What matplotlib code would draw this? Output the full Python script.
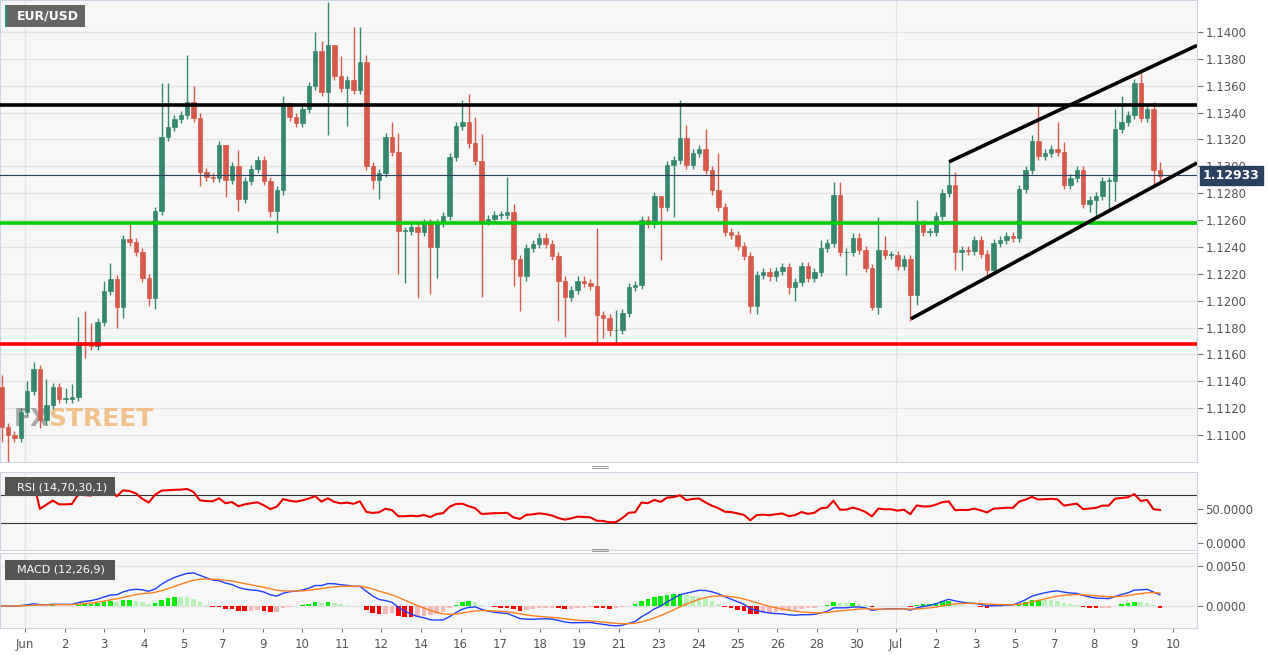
import numpy as np
import pandas as pd
import matplotlib
matplotlib.use("Agg")
import matplotlib.pyplot as plt
from matplotlib.patches import Rectangle

# ---------------- data ----------------
closes = [
1.1106,1.1100,1.1098,1.1117,1.1133,1.1149,1.1111,1.1122,1.1136,1.1127,
1.1127,1.1128,1.1169,1.1167,1.1166,1.1184,1.1207,1.1216,1.1195,1.1246,
1.1244,1.1236,1.1217,1.1202,1.1267,1.1322,1.1329,1.1335,1.1338,1.1348,
1.1336,1.1296,1.1292,1.1291,1.1316,1.1290,1.1300,1.1276,1.1289,1.1298,
1.1305,1.1289,1.1267,1.1282,1.1347,1.1337,1.1332,1.1343,1.1360,1.1386,
1.1355,1.1390,1.1367,1.1358,1.1364,1.1357,1.1378,1.1300,1.1290,1.1295,
1.1322,1.1311,1.1252,1.1252,1.1255,1.1251,1.1258,1.1240,1.1258,1.1263,
1.1307,1.1330,1.1333,1.1317,1.1304,1.1259,1.1261,1.1264,1.1264,1.1266,
1.1231,1.1218,1.1239,1.1242,1.1247,1.1242,1.1233,1.1215,1.1203,1.1208,
1.1215,1.1213,1.1211,1.1189,1.1187,1.1178,1.1178,1.1191,1.1210,1.1212,
1.1260,1.1257,1.1278,1.1270,1.1301,1.1305,1.1321,1.1301,1.1310,1.1313,
1.1297,1.1282,1.1270,1.1251,1.1249,1.1241,1.1233,1.1196,1.1219,1.1221,
1.1218,1.1222,1.1225,1.1210,1.1214,1.1226,1.1217,1.1221,1.1239,1.1243,
1.1279,1.1236,1.1236,1.1247,1.1238,1.1224,1.1195,1.1238,1.1234,1.1234,
1.1226,1.1231,1.1204,1.1257,1.1251,1.1251,1.1263,1.1280,1.1286,1.1236,
1.1238,1.1237,1.1245,1.1235,1.1223,1.1243,1.1245,1.1248,1.1247,1.1283,
1.1297,1.1319,1.1308,1.1310,1.1313,1.1311,1.1286,1.1291,1.1297,1.1272,
1.1275,1.1278,1.1289,1.1289,1.1328,1.1333,1.1338,1.1362,1.1336,1.1343,
1.1297,1.1293]
first_open = 1.1136
high_marks = {1:1.1145,5:1.1140,6:1.1154,8:1.1142,11:1.1135,12:1.1138,13:1.1188,14:1.1192,
 15:1.1183,17:1.1215,18:1.1228,21:1.1257,26:1.1362,27:1.1362,30:1.1383,31:1.1360,32:1.1340,
 36:1.1315,38:1.1312,45:1.1352,46:1.1343,50:1.1400,51:1.1393,52:1.1422,53:1.1390,54:1.1382,
 56:1.1404,57:1.1404,58:1.1383,62:1.1333,63:1.1325,73:1.1349,74:1.1354,75:1.1337,76:1.1324,
 80:1.1292,81:1.1272,94:1.1254,97:1.1193,104:1.1278,107:1.1349,108:1.1331,111:1.1328,
 113:1.1310,129:1.1245,131:1.1288,132:1.1288,138:1.1262,139:1.1248,144:1.1275,149:1.1303,
 150:1.1296,162:1.1323,163:1.1345,166:1.1333,167:1.1318,170:1.1300,175:1.1343,176:1.1352,
 178:1.1365,179:1.1370,180:1.1345,181:1.1348,182:1.1303}
low_marks = {1:1.1095,2:1.1080,7:1.1105,14:1.1157,19:1.1180,20:1.1187,24:1.1196,25:1.1194,
 32:1.1285,36:1.1277,38:1.1267,43:1.1262,44:1.1250,52:1.1323,55:1.1330,59:1.1283,60:1.1276,
 63:1.1220,64:1.1213,66:1.1202,68:1.1205,69:1.1217,76:1.1203,81:1.1211,82:1.1192,88:1.1185,
 89:1.1173,94:1.1168,95:1.1172,96:1.1174,97:1.1169,104:1.1230,106:1.1262,118:1.1191,
 119:1.1190,124:1.1205,125:1.1200,133:1.1219,137:1.1193,138:1.1190,143:1.1185,144:1.1197,
 150:1.1223,151:1.1223,155:1.1218,171:1.1266,172:1.1263,174:1.1268,175:1.1274,181:1.1285,
 182:1.1288}
day_labels = ["Jun","2","3","4","5","7","9","10","11","12","14","16","17","18","19","21",
              "23","24","25","26","28","30","Jul","2","3","5","7","8","9","10"]
resistance = 1.1346
support_mid = 1.1258
support_low = 1.1168
last_price = 1.12933
chan_upper = [(949, 1.13033), (1197, 1.1390)]
chan_lower = [(911, 1.11865), (1197, 1.13025)]

# ---------------- derived ----------------
n = len(closes)
opens = [first_open] + closes[:-1]
pip = 0.0003
highs, lows = [], []
for i in range(n):
    o, c = opens[i], closes[i]
    highs.append(max(high_marks.get(i + 1, max(o, c) + pip), max(o, c)))
    lows.append(min(low_marks.get(i + 1, min(o, c) - pip), min(o, c)))
xs = 1.5 + 6.4 * np.arange(n)
day_x = 25 + 39.6 * np.arange(len(day_labels))

s = pd.Series(closes)
d = s.diff().fillna(0)
up = d.clip(lower=0).ewm(alpha=1/14, adjust=True).mean()
dn = (-d.clip(upper=0)).ewm(alpha=1/14, adjust=True).mean()
rsi = 100 - 100 / (1 + up / dn.replace(0, np.nan))
macd = s.ewm(span=12).mean() - s.ewm(span=26).mean()
sig = macd.ewm(span=9).mean()
hist = macd - sig

# ---------------- figure ----------------
W, H = 1269, 655
fig = plt.figure(figsize=(W/100, H/100), dpi=100)
fig.patch.set_facecolor("white")
def ax_at(x0, y0, x1, y1):
    return fig.add_axes([x0/W, 1 - y1/H, (x1-x0)/W, (y1-y0)/H])

bg = "#f7f7f7"; spine = "#cdd3e3"; grid = "#e4e4e4"; txt = "#555555"
GREEN = "#35876f"; RED = "#d65a4b"

ax = ax_at(0, 0, 1197, 462)
rax = ax_at(0, 472, 1197, 550)
max_ = ax_at(0, 553, 1197, 628)
for a in (ax, rax, max_):
    a.set_facecolor(bg)
    a.set_xlim(0, 1197)
    for sp in a.spines.values():
        sp.set_color(spine)
    a.yaxis.tick_right()
    a.tick_params(axis="y", colors="#777777", labelcolor=txt, labelsize=8.5, length=4, pad=2)
    a.tick_params(axis="x", length=0, labelbottom=False)
    for dx in (day_x[0], day_x[22]):
        a.axvline(dx, color=grid, lw=1, zorder=0)

# main
ax.set_ylim(1.10799, 1.14238)
yt = np.arange(1.1100, 1.14001, 0.0020)
ax.set_yticks(yt)
ax.set_yticklabels([f"{v:.4f}" for v in yt])
for v in yt:
    ax.axhline(v, color=grid, lw=1, zorder=0)
# watermark
ax.text(14, 1.1112, "FX", color="#9a9a9a", fontsize=18, fontweight="bold", alpha=0.85, va="center", zorder=1)
ax.text(48, 1.1112, "STREET", color="#f0b878", fontsize=18, fontweight="bold", alpha=0.85, va="center", zorder=1)
w = 4.4
for i in range(n):
    o, c = opens[i], closes[i]
    col = GREEN if c >= o else RED
    ax.vlines(xs[i], lows[i], highs[i], color=col, lw=1, zorder=2)
    b0, b1 = min(o, c), max(o, c)
    if b1 - b0 < 0.00005:
        b1 = b0 + 0.00005
    ax.add_patch(Rectangle((xs[i]-w/2, b0), w, b1-b0, facecolor=col, edgecolor=col, lw=0.5, zorder=3))
ax.axhline(resistance, color="black", lw=2.6, zorder=4)
ax.axhline(support_mid, color="#00cc00", lw=2.6, zorder=4)
ax.axhline(support_low, color="#ff0000", lw=2.6, zorder=4)
ax.axhline(last_price, color="#2b3f5e", lw=0.8, zorder=4)
for seg in (chan_upper, chan_lower):
    ax.plot([seg[0][0], seg[1][0]], [seg[0][1], seg[1][1]], color="black", lw=2.6, zorder=5, solid_capstyle="butt")
ax.text(1203, last_price, f"{last_price:.5f}", color="white", fontsize=9, fontweight="bold",
        va="center", ha="left", clip_on=False,
        bbox=dict(boxstyle="square,pad=0.25", fc="#2b3f5e", ec="#2b3f5e"), zorder=10)
# title box
fig.patches.append(Rectangle((5/W, 1-27/H), 80/W, 22/H, transform=fig.transFigure, fc="#666666", ec="none"))
fig.patches.append(Rectangle((5/W, 1-27/H), 2/W, 22/H, transform=fig.transFigure, fc="#2e8b76", ec="none"))
fig.text(17/W, 1-16/H, "EUR/USD", color="white", fontsize=9, va="center", fontweight="bold")

# RSI
rax.set_ylim(-10, 104)
rax.set_yticks([50, 0])
rax.set_yticklabels(["50.0000", "0.0000"])
rax.axhline(70, color="#333333", lw=0.8)
rax.axhline(30, color="#333333", lw=0.8)
rax.plot(xs[3:], rsi.values[3:], color="#ee0000", lw=1.5)
fig.patches.append(Rectangle((5/W, 1-496/H), 110/W, 19/H, transform=fig.transFigure, fc="#555555", ec="none"))
fig.text(17/W, 1-487/H, "RSI (14,70,30,1)", color="white", fontsize=8, va="center")

# MACD
max_.set_ylim(-0.00275, 0.0066)
max_.set_yticks([0.005, 0.0])
max_.set_yticklabels(["0.0050", "0.0000"])
max_.axhline(0.005, color=grid, lw=1, zorder=0)
max_.axhline(0.0, color=grid, lw=1, zorder=0)
hv = hist.values
cols = []
for i, h in enumerate(hv):
    prev = hv[i-1] if i > 0 else 0
    if h >= 0:
        cols.append("#00ee00" if h >= prev else "#b8f0b8")
    else:
        cols.append("#ff0000" if h <= prev else "#f4b8b8")
max_.bar(xs, hv, width=4.6, color=cols, zorder=2)
max_.plot(xs, macd, color="#1f3fff", lw=1, zorder=3)
max_.plot(xs, sig, color="#ff7f1f", lw=1, zorder=3)
fig.patches.append(Rectangle((5/W, 1-580/H), 110/W, 20/H, transform=fig.transFigure, fc="#555555", ec="none"))
fig.text(17/W, 1-570/H, "MACD (12,26,9)", color="white", fontsize=8, va="center")

max_.set_xticks(day_x)
max_.set_xticklabels(day_labels)
max_.tick_params(axis="x", labelbottom=True, length=3, colors="#777777", labelcolor=txt, labelsize=8.5, pad=4)

# separator grips
for yy in (466, 549):
    for k in range(2):
        fig.add_artist(plt.Line2D([592/W, 608/W], [1-(yy+2*k)/H]*2, color="#888888", lw=0.6))

fig.savefig("out.png", dpi=100, facecolor="white")
